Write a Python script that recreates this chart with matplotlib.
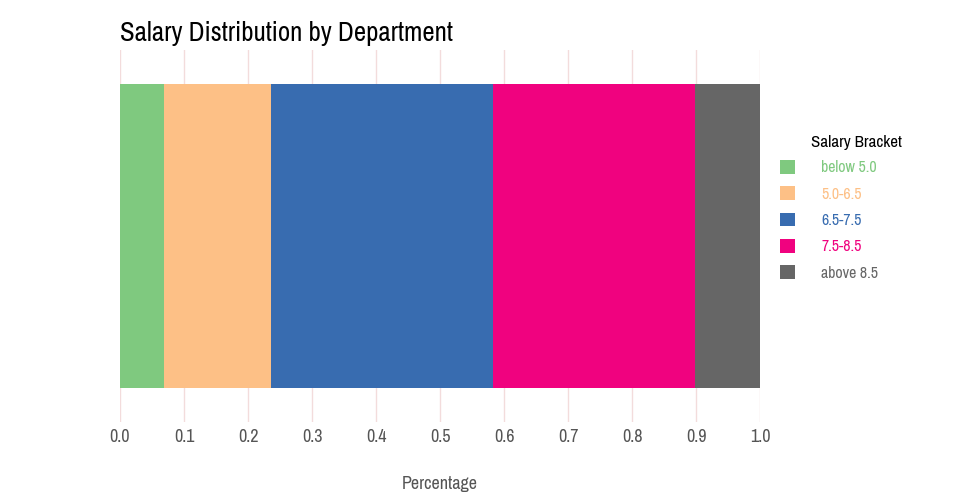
import matplotlib
matplotlib.use("Agg")

import matplotlib.pyplot as plt
from matplotlib import font_manager

# data
brackets = ["below 5.0", "5.0-6.5", "6.5-7.5", "7.5-8.5", "above 8.5"]
shares = [0.068, 0.168, 0.347, 0.315, 0.102]
colors = ["#7fc97f", "#fdc086", "#386cb0", "#f0027f", "#666666"]
ticks = [0.0, 0.1, 0.2, 0.3, 0.4, 0.5, 0.6, 0.7, 0.8, 0.9, 1.0]

# pick a condensed face if one is around
names = sorted({f.name for f in font_manager.fontManager.ttflist})
cond = [n for n in names if "Condensed" in n or "Narrow" in n]
FONT = cond[:1] + ["Roboto", "DejaVu Sans"]
plt.rcParams["font.family"] = FONT

fig = plt.figure(figsize=(9.6, 5.0), dpi=100)
ax = fig.add_axes([0.125, 0.156, 0.6667, 0.744])

left = 0.0
handles = []
for name, val, col in zip(brackets, shares, colors):
    b = ax.barh(0, val, left=left, height=0.8, color=col, label=name, zorder=2)
    handles.append(b)
    left += val

ax.set_xlim(0, 1.0)
ax.set_ylim(-0.49, 0.49)
ax.set_xticks(ticks)
ax.set_xticklabels([f"{t:.1f}" for t in ticks])
ax.set_yticks([])
ax.tick_params(axis="x", length=0, pad=5, labelsize=13, labelcolor="#555555")
ax.grid(axis="x", color="#f3dcdc", linewidth=1, zorder=0)
for s in ax.spines.values():
    s.set_visible(False)

ax.set_xlabel("Percentage", fontsize=13, color="#555555", labelpad=22)
fig.text(0.125, 0.908, "Salary Distribution by Department", fontsize=19.3,
         color="black", ha="left", va="bottom")

# legend: title placed on its own, entries below
leg = fig.legend(handles=handles, loc="upper left",
                 bbox_to_anchor=(0.8125, 0.68), frameon=False, fontsize=11.4,
                 handlelength=0.95, handleheight=0.95, handletextpad=1.65,
                 labelspacing=0.7, borderpad=0.0, borderaxespad=0.0)
for txt, col in zip(leg.get_texts(), colors):
    txt.set_color(col)
fig.text(0.845, 0.714, "Salary Bracket", fontsize=12.2, color="black",
         ha="left", va="center")

fig.savefig("out.png", dpi=100)
